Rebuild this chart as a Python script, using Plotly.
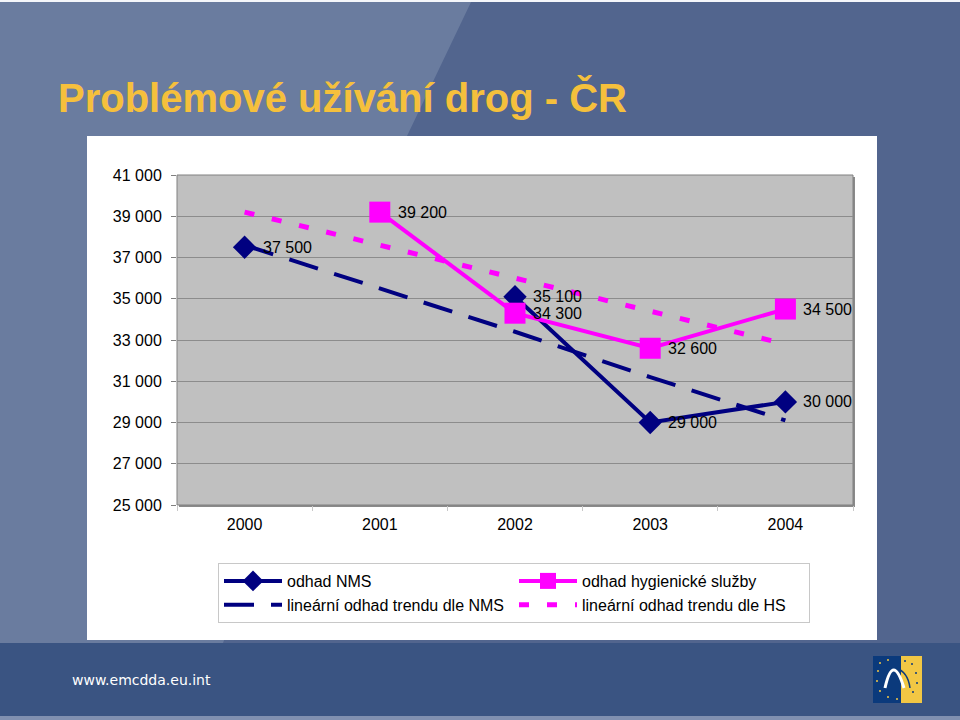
import plotly.graph_objects as go

# ---------------- data ----------------
years = ["2000", "2001", "2002", "2003", "2004"]
nms = [37500, None, 35100, 29000, 30000]
nms_labels = ["37 500", "", "35 100", "29 000", "30 000"]
hs = [None, 39200, 34300, 32600, 34500]
hs_labels = ["", "39 200", "34 300", "32 600", "34 500"]
trend_nms = [37600, 35500, 33400, 31200, 29100]
trend_hs = [39200, 37600, 36000, 34400, 32800]
y_ticks = [25000, 27000, 29000, 31000, 33000, 35000, 37000, 39000, 41000]
y_tick_text = ["25 000", "27 000", "29 000", "31 000", "33 000", "35 000", "37 000", "39 000", "41 000"]

NAVY = "#000080"
PINK = "#FF00FF"
FONT = "Liberation Sans, Arial, sans-serif"

# plot area in pixels
L, T, R, B = 177, 175, 853, 505
W, H = 960, 720


def px(x):
    return (x - L) / (R - L)


def py(y):
    return (B - y) / (B - T)


def path(points):
    return "M " + " L ".join(f"{px(x):.5f},{py(y):.5f}" for x, y in points) + " Z"


def rect(x0, y0, x1, y1, color, line=None, lw=0):
    return dict(type="rect", xref="paper", yref="paper", x0=px(x0), x1=px(x1),
                y0=py(y1), y1=py(y0), fillcolor=color,
                line=dict(color=line or color, width=lw), layer="below")


fig = go.Figure()

fig.add_trace(go.Scatter(
    x=years, y=nms, name="odhad NMS", mode="lines+markers",
    line=dict(color=NAVY, width=4), connectgaps=False,
    marker=dict(symbol="diamond", size=18, color=NAVY)))
fig.add_trace(go.Scatter(
    x=years, y=hs, name="odhad hygienické služby", mode="lines+markers",
    line=dict(color=PINK, width=4), connectgaps=False,
    marker=dict(symbol="square", size=21, color=PINK)))
fig.add_trace(go.Scatter(
    x=years, y=trend_nms, name="lineární odhad trendu dle NMS", mode="lines",
    line=dict(color=NAVY, width=4, dash="30px,17px")))
fig.add_trace(go.Scatter(
    x=years, y=trend_hs, name="lineární odhad trendu dle HS", mode="lines",
    line=dict(color=PINK, width=5, dash="10px,18px")))

shapes = [
    # slide background lighter diagonal part
    dict(type="path", xref="paper", yref="paper",
         path=path([(0, 0), (472, 0), (407, 136), (223, 643), (0, 643)]),
         fillcolor="#6A7C9F", line=dict(width=0), layer="below"),
    rect(0, 0, 960, 2, "#F4F6FA"),
    rect(0, 643, 960, 716, "#3A5482"),
    rect(0, 716, 960, 720, "#8090B0"),
    # white chart box
    rect(87, 136, 877, 640, "#FFFFFF"),
    # plot area shadow & fill
    rect(179, 177, 855, 507, "#8A8A8A"),
    rect(177, 175, 853, 505, "#C0C0C0", line="#808080", lw=1),
    # logo
    rect(873, 656, 901, 703, "#0B3A7C"),
    rect(901, 656, 922, 703, "#F2C744"),
    dict(type="path", xref="paper", yref="paper",
         path=f"M {px(885):.5f},{py(688):.5f} Q {px(893):.5f},{py(652):.5f} {px(904):.5f},{py(688):.5f}",
         line=dict(color="#FFFFFF", width=3), layer="below"),
    dict(type="path", xref="paper", yref="paper",
         path=f"M {px(896):.5f},{py(668):.5f} Q {px(908):.5f},{py(672):.5f} {px(910):.5f},{py(688):.5f}",
         line=dict(color="#0B3A7C", width=1.5), layer="below"),
]
star_pts = [(880, 663), (888, 660), (878, 671), (877, 681), (880, 691), (888, 697),
            (897, 699), (905, 661), (912, 664), (916, 673), (917, 683), (913, 692)]
for sx, sy in star_pts:
    c = "#F2C744" if sx < 901 else "#0B3A7C"
    shapes.append(dict(type="circle", xref="paper", yref="paper",
                       x0=px(sx - 1), x1=px(sx + 1), y0=py(sy + 1), y1=py(sy - 1),
                       fillcolor=c, line=dict(width=0), layer="below"))

annotations = [
    dict(text="<b>Problémové užívání drog - ČR</b>", xref="paper", yref="paper",
         x=px(56), y=py(98), xanchor="left", yanchor="middle", showarrow=False,
         font=dict(family=FONT, size=40, color="#F5C03C")),
    dict(text="www.emcdda.eu.int", xref="paper", yref="paper",
         x=px(70), y=py(680), xanchor="left", yanchor="middle", showarrow=False,
         font=dict(family="DejaVu Sans, sans-serif", size=14, color="#FFFFFF")),
]

# data labels, placed to the right of each marker (category index positions)
for series, labels in ((nms, nms_labels), (hs, hs_labels)):
    for i, (yv, lab) in enumerate(zip(series, labels)):
        if yv is None:
            continue
        annotations.append(dict(x=i, y=yv, xref="x", yref="y", text=lab, showarrow=False,
                                xanchor="left", yanchor="middle", xshift=16,
                                font=dict(family=FONT, size=16, color="black")))

fig.update_layout(
    width=W, height=H, autosize=False,
    margin=dict(l=L, r=W - R, t=T, b=H - B),
    paper_bgcolor="#52658E", plot_bgcolor="rgba(0,0,0,0)",
    font=dict(family=FONT, size=16, color="black"),
    shapes=shapes, annotations=annotations,
    showlegend=True,
    legend=dict(orientation="h", x=px(218), y=py(563), xanchor="left", yanchor="top",
                bgcolor="#FFFFFF", bordercolor="#C8C8C8", borderwidth=1,
                font=dict(family=FONT, size=16, color="black"),
                itemwidth=58, entrywidth=222, traceorder="normal"),
    xaxis=dict(type="category", range=[-0.5, 4.5], showgrid=False, zeroline=False,
               ticks="outside", tickson="boundaries", ticklen=5, tickcolor="#C8C8C8",
               showline=False, tickfont=dict(size=16, color="black"),
               ticklabelstandoff=8, fixedrange=True),
    yaxis=dict(range=[25000, 41000], tickvals=y_ticks, ticktext=y_tick_text,
               showgrid=True, gridcolor="#8C8C8C", gridwidth=1, zeroline=False,
               ticks="outside", ticklen=5, tickcolor="#808080", showline=False,
               tickfont=dict(size=16, color="black"), ticklabelstandoff=6, fixedrange=True),
)

fig.write_html("out.html", config={"displayModeBar": False},
               post_script="document.body.style.margin='0';document.body.style.padding='0';")
